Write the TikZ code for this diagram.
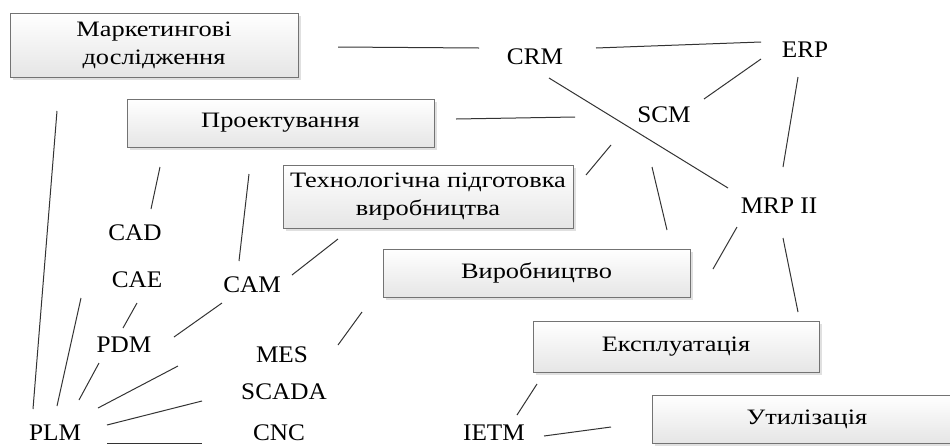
\documentclass[tikz,border=0pt]{standalone}
\usepackage{fontspec}
\setmainfont{Liberation Serif}
\newfontfamily\boxfont{Liberation Serif}[FakeStretch=1.2]
\newfontfamily\lblfont{Liberation Serif}[FakeStretch=1.06]
\usetikzlibrary{shadows}
\begin{document}
\begin{tikzpicture}[x=1pt,y=-1pt,
  box/.style={draw=black!55, line width=0.9pt, top color=white, bottom color=black!10,
    general shadow={fill=black!12, shadow xshift=3pt, shadow yshift=-3pt},
    inner sep=0pt, align=center, font=\boxfont\fontsize{22}{28}\selectfont},
  lbl/.style={inner sep=0pt, font=\lblfont\fontsize{23.8}{28}\selectfont},
  conn/.style={draw=black!80, line width=1pt}]
\useasboundingbox (0,0) rectangle (950,445);
\clip (0,0) rectangle (950,445);
% boxes
\node[box, minimum width=288pt, minimum height=64pt] (mark) at (154,45) {Маркетингові\\дослідження};
\node[box, minimum width=307pt, minimum height=48pt] (proekt) at (280.5,123) {Проектування};
\node[box, minimum width=290pt, minimum height=63pt] (tech) at (428,196.5) {Технологічна підготовка\\виробництва};
\node[box, minimum width=307pt, minimum height=48pt] (vyrob) at (536.5,273) {Виробництво};
\node[box, minimum width=286pt, minimum height=51pt] (ekspl) at (676,346.5) {Експлуатація};
\node[box, minimum width=310pt, minimum height=48pt] (util) at (807,419) {Утилізація};
% labels
\node[lbl] (crm) at (535,57) {CRM};
\node[lbl] (erp) at (805,50) {ERP};
\node[lbl] (scm) at (664,115) {SCM};
\node[lbl] (mrp) at (779,206) {MRP II};
\node[lbl] (cad) at (135,233) {CAD};
\node[lbl] (cae) at (137,280) {CAE};
\node[lbl] (cam) at (252,285) {CAM};
\node[lbl] (pdm) at (124,345) {PDM};
\node[lbl] (mes) at (282,355) {MES};
\node[lbl] (scada) at (284,392) {SCADA};
\node[lbl] (cnc) at (279,433) {CNC};
\node[lbl] (plm) at (55,433) {PLM};
\node[lbl] (ietm) at (494,433) {IETM};
% connector ends
\coordinate (mcA) at (338,47);  \coordinate (mcB) at (479,48);
\coordinate (ceA) at (596,48);  \coordinate (ceB) at (761,42);
\coordinate (cmA) at (549,78);  \coordinate (cmB) at (728,188);
\coordinate (seA) at (704,99);  \coordinate (seB) at (761,59);
\coordinate (emA) at (798,77);  \coordinate (emB) at (783,167);
\coordinate (psA) at (456,119); \coordinate (psB) at (575,117);
\coordinate (tsA) at (586,175); \coordinate (tsB) at (611,145);
\coordinate (svA) at (652,167); \coordinate (svB) at (667,230);
\coordinate (mvA) at (737,227); \coordinate (mvB) at (713,269);
\coordinate (meA) at (783,238); \coordinate (meB) at (798,312);
\coordinate (eiA) at (537,384); \coordinate (eiB) at (517,415);
\coordinate (iuA) at (544,436); \coordinate (iuB) at (611,427);
\coordinate (pcA) at (160,167); \coordinate (pcB) at (151,209);
\coordinate (pmA) at (249,174); \coordinate (pmB) at (239,261);
\coordinate (tmA) at (338,239); \coordinate (tmB) at (292,275);
\coordinate (apA) at (137,303); \coordinate (apB) at (123,328);
\coordinate (mpA) at (222,303); \coordinate (mpB) at (174,337);
\coordinate (vmA) at (362,312); \coordinate (vmB) at (338,345);
\coordinate (lkA) at (57,111);  \coordinate (lkB) at (33,409);
\coordinate (laA) at (81,298);  \coordinate (laB) at (57,406);
\coordinate (ldA) at (99,363);  \coordinate (ldB) at (79,400);
\coordinate (lmA) at (178,366); \coordinate (lmB) at (98,408);
\coordinate (lsA) at (202,401); \coordinate (lsB) at (107,425);
\coordinate (lnA) at (107,443); \coordinate (lnB) at (202,443);
% connectors
\foreach \c in {mc,ce,cm,se,em,ps,ts,sv,mv,me,ei,iu,pc,pm,tm,ap,mp,vm,lk,la,ld,lm,ls,ln}
  \draw[conn] (\c A) -- (\c B);
\end{tikzpicture}
\end{document}
